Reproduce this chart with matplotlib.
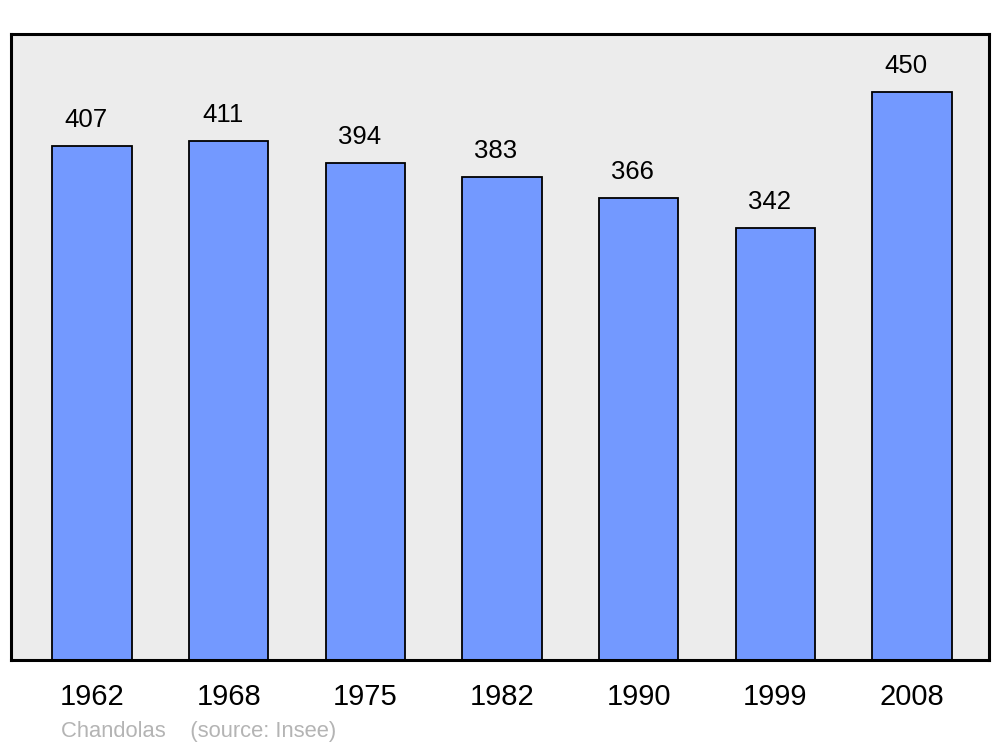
import matplotlib.pyplot as plt
import numpy as np

plt.rcParams['font.family'] = ['Liberation Sans', 'DejaVu Sans']

# population data
years = ['1962', '1968', '1975', '1982', '1990', '1999', '2008']
population = [407, 411, 394, 383, 366, 342, 450]

fig = plt.figure(figsize=(10, 7.47), dpi=100)
ax = fig.add_axes([0.011, 0.1165, 0.978, 0.838])
ax.set_facecolor('#ececec')

x = np.arange(len(years))
ax.bar(x, population, width=0.58, color='#7399ff', edgecolor='black', linewidth=1.3)

for xi, v in zip(x, population):
    ax.annotate(str(v), (xi, v), xytext=(-6, 19), textcoords='offset pixels',
                ha='center', va='baseline', fontsize=18.5)

ax.set_xlim(-0.593, len(years) - 1 + 0.563)
ax.set_ylim(0, 496)
ax.set_xticks(x)
ax.set_xticklabels(years, fontsize=21)
ax.tick_params(axis='x', length=0, pad=16.5)
ax.set_yticks([])
for s in ax.spines.values():
    s.set_linewidth(2.2)
    s.set_joinstyle('round')

fig.text(0.061, 1 - 737 / 747, 'Chandolas    (source: Insee)', color='#b4b4b4',
         fontsize=15.8, va='baseline')

fig.savefig('out.png', dpi=100)
